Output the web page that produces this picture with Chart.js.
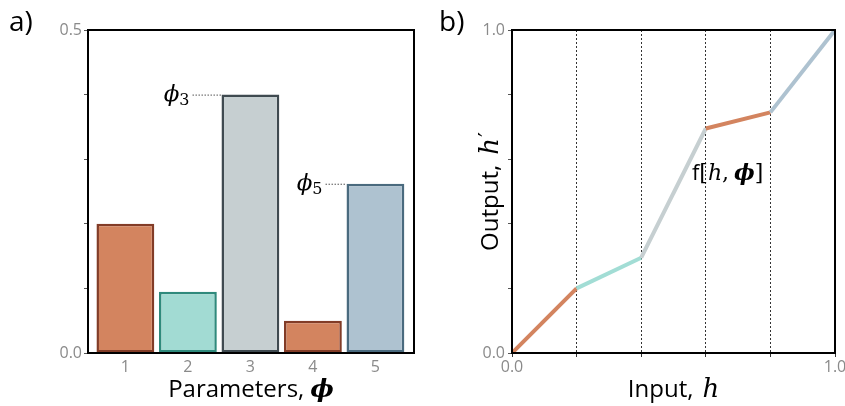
<!DOCTYPE html>
<html>
<head>
<meta charset="utf-8">
<script src="https://cdn.jsdelivr.net/npm/chart.js@4/dist/chart.umd.min.js"></script>
<style>
  html, body { margin: 0; padding: 0; background: #fff; overflow: hidden; width: 845px; height: 406px; }
  #wrapA { position: absolute; left: 0; top: 0; width: 425px; height: 406px; }
  #wrapB { position: absolute; left: 425px; top: 0; width: 440px; height: 406px; }
</style>
</head>
<body>
<div id="wrapA"><canvas id="chartA" width="425" height="406"></canvas></div>
<div id="wrapB"><canvas id="chartB" width="440" height="406"></canvas></div>
<script>
// panel a) parameters
const paramIndex = [1, 2, 3, 4, 5];
const paramValues = [0.2, 0.095, 0.4, 0.05, 0.262];
const barFills = ['#D3845F', '#A2DBD3', '#C6CFD1', '#D3845F', '#AEC2D0'];
const barEdges = ['#823C27', '#2F8A7C', '#3F4A50', '#823C27', '#4A6A7E'];

// panel b) piecewise linear function
const inputH = [0, 0.2, 0.4, 0.6, 0.8, 1.0];
const outputH = [0, 0.2, 0.295, 0.695, 0.745, 1.0];
const segmentColors = ['#D3845F', '#A2DDD5', '#C6CFD1', '#D3845F', '#AEC2D0'];

const SANS = '"Open Sans"';
const SERIF = '"DejaVu Serif"';
const tickGray = '#8a8a8a';

// draw a row of text pieces with different fonts
function drawRuns(ctx, runs, x, y, align) {
    let total = 0;
    runs.forEach(r => {
        ctx.font = r.font;
        r.w = ctx.measureText(r.text).width + (r.gap || 0);
        total += r.w;
    });
    let cx = align === 'center' ? x - total / 2 : (align === 'right' ? x - total : x);
    runs.forEach(r => {
        ctx.font = r.font;
        ctx.fillText(r.text, cx + (r.gap || 0), y + (r.dy || 0));
        cx += r.w;
    });
}

const framePlugin = {
    id: 'frame',
    afterDatasetsDraw(chart) {
        const { ctx, chartArea: a } = chart;
        ctx.save();
        ctx.strokeStyle = '#000';
        ctx.lineWidth = 2;
        ctx.strokeRect(a.left, a.top, a.right - a.left, a.bottom - a.top);
        ctx.restore();
    }
};

// labels for panel a
const labelsA = {
    id: 'labelsA',
    afterDraw(chart) {
        const { ctx, chartArea: a } = chart;
        const bars = chart.getDatasetMeta(0).data;
        ctx.save();
        ctx.fillStyle = '#000';
        ctx.textBaseline = 'alphabetic';

        drawRuns(ctx, [{ text: 'a)', font: '28px ' + SANS }], 9, 31, 'left');

        drawRuns(ctx, [
            { text: 'Parameters,', font: '24px ' + SANS },
            { text: 'ϕ', font: 'italic bold 25px ' + SERIF, gap: 6 }
        ], (a.left + a.right) / 2, 397, 'center');

        // leaders to bars 3 and 5
        [[2, '3', 29], [4, '5', 21]].forEach(([i, sub, len]) => {
            const b = bars[i];
            const left = b.x - b.width / 2;
            const top = b.y;
            ctx.strokeStyle = '#555';
            ctx.lineWidth = 1;
            ctx.setLineDash([1.5, 1.5]);
            ctx.beginPath();
            ctx.moveTo(left - len, top + 0.5);
            ctx.lineTo(left, top + 0.5);
            ctx.stroke();
            ctx.setLineDash([]);
            drawRuns(ctx, [
                { text: 'ϕ', font: 'italic 23px ' + SERIF },
                { text: sub, font: '16px ' + SERIF, dy: 4 }
            ], left - len - 3, top + 6, 'right');
        });
        ctx.restore();
    }
};

// labels for panel b
const labelsB = {
    id: 'labelsB',
    afterDraw(chart) {
        const { ctx, chartArea: a, scales } = chart;
        ctx.save();
        ctx.fillStyle = '#000';
        ctx.textBaseline = 'alphabetic';

        drawRuns(ctx, [{ text: 'b)', font: '28px ' + SANS }], 14, 31, 'left');

        drawRuns(ctx, [
            { text: 'Input,', font: '24px ' + SANS },
            { text: 'h', font: 'italic 26px ' + SERIF, gap: 9 }
        ], (a.left + a.right) / 2, 397, 'center');

        ctx.save();
        ctx.translate(73, (a.top + a.bottom) / 2);
        ctx.rotate(-Math.PI / 2);
        drawRuns(ctx, [
            { text: 'Output,', font: '24px ' + SANS },
            { text: 'h', font: 'italic 26px ' + SERIF, gap: 10 },
            { text: '′', font: '22px ' + SERIF, dy: -4, gap: 1 }
        ], 0, 0, 'center');
        ctx.restore();

        const fx = scales.x.getPixelForValue(0.557);
        const fy = scales.y.getPixelForValue(0.56) + 8;
        drawRuns(ctx, [
            { text: 'f', font: '22px ' + SANS },
            { text: '[', font: '22px ' + SERIF },
            { text: 'h', font: 'italic 22px ' + SERIF },
            { text: ',', font: '22px ' + SERIF },
            { text: 'ϕ', font: 'italic bold 22px ' + SERIF, gap: 5 },
            { text: ']', font: '22px ' + SERIF }
        ], fx, fy, 'left');
        ctx.restore();
    }
};

const tickFont = { family: SANS, size: 16 };
const isEnd = (v, hi) => Math.abs(v) < 1e-9 || Math.abs(v - hi) < 1e-9;

new Chart(document.getElementById('chartA').getContext('2d'), {
    type: 'bar',
    data: {
        datasets: [{
            data: paramIndex.map((x, i) => ({ x: x, y: paramValues[i] })),
            backgroundColor: barFills,
            borderColor: barEdges,
            borderWidth: 2.5,
            borderSkipped: false,
            categoryPercentage: 1,
            barPercentage: 0.925
        }]
    },
    options: {
        responsive: false,
        animation: false,
        layout: { padding: { top: 30, right: 11, bottom: 0, left: 0 } },
        plugins: { legend: { display: false }, tooltip: { enabled: false } },
        scales: {
            x: {
                type: 'linear',
                min: 0.402,
                max: 5.617,
                bounds: 'data',
                offset: false,
                afterBuildTicks(s) { s.ticks = paramIndex.map(v => ({ value: v })); },
                grid: { display: false, drawTicks: false, offset: false },
                border: { display: false },
                ticks: { color: tickGray, font: tickFont, padding: 5, callback: v => String(v) },
                afterFit(s) { s.height = 53; s.paddingLeft = 0; s.paddingRight = 0; }
            },
            y: {
                min: 0,
                max: 0.5,
                ticks: {
                    stepSize: 0.1,
                    color: tickGray,
                    font: tickFont,
                    padding: 2,
                    callback: v => isEnd(v, 0.5) ? v.toFixed(1) : ''
                },
                grid: { drawOnChartArea: false, drawTicks: true, tickLength: 4, tickColor: '#555' },
                border: { display: false },
                afterFit(s) { s.width = 88; s.paddingTop = 0; s.paddingBottom = 0; }
            }
        }
    },
    plugins: [framePlugin, labelsA]
});

new Chart(document.getElementById('chartB').getContext('2d'), {
    type: 'line',
    data: {
        datasets: [{
            data: inputH.map((x, i) => ({ x: x, y: outputH[i] })),
            borderColor: segmentColors[0],
            borderWidth: 4,
            pointRadius: 0,
            tension: 0,
            fill: false,
            segment: { borderColor: c => segmentColors[c.p0DataIndex] }
        }]
    },
    options: {
        responsive: false,
        animation: false,
        layout: { padding: { top: 30, right: 30, bottom: 0, left: 0 } },
        plugins: { legend: { display: false }, tooltip: { enabled: false } },
        scales: {
            x: {
                type: 'linear',
                min: 0,
                max: 1,
                ticks: {
                    stepSize: 0.2,
                    color: tickGray,
                    font: tickFont,
                    padding: 1,
                    maxRotation: 0,
                    callback: v => isEnd(v, 1) ? v.toFixed(1) : ''
                },
                grid: {
                    color: c => (c.tick && !isEnd(c.tick.value, 1)) ? '#333' : 'rgba(0,0,0,0)',
                    tickColor: '#333',
                    lineWidth: 1,
                    tickLength: 4
                },
                border: { display: false, dash: [2, 2] },
                afterFit(s) { s.height = 53; s.paddingLeft = 0; s.paddingRight = 0; }
            },
            y: {
                min: 0,
                max: 1,
                ticks: {
                    stepSize: 0.2,
                    color: tickGray,
                    font: tickFont,
                    padding: 3,
                    callback: v => isEnd(v, 1) ? v.toFixed(1) : ''
                },
                grid: { drawOnChartArea: false, drawTicks: true, tickLength: 4, tickColor: '#555' },
                border: { display: false },
                afterFit(s) { s.width = 87; s.paddingTop = 0; s.paddingBottom = 0; }
            }
        }
    },
    plugins: [framePlugin, labelsB]
});
</script>
</body>
</html>
